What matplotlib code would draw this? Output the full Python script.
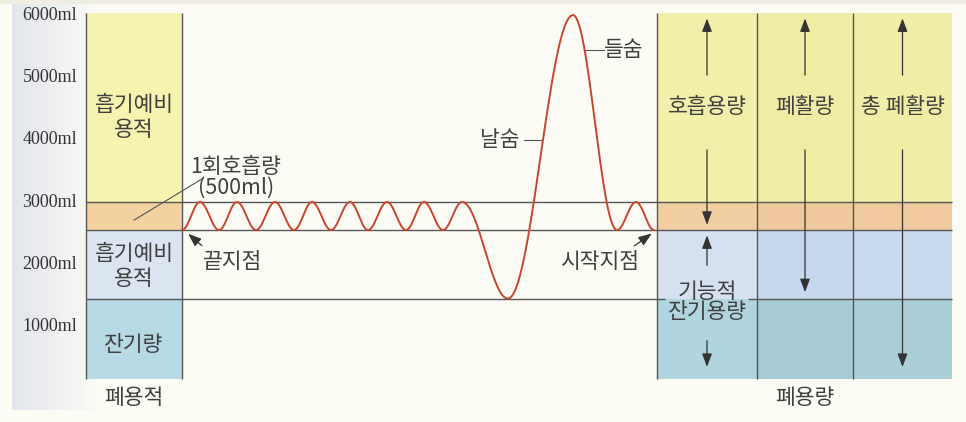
import numpy as np
import matplotlib.pyplot as plt

plt.rcParams['font.family'] = ['Noto Sans CJK KR', 'DejaVu Sans']

# volume axis (ml)
tick_ml = [1000, 2000, 3000, 4000, 5000, 6000]
tick_labels = ['1000ml', '2000ml', '3000ml', '4000ml', '5000ml', '6000ml']

# band boundaries (ml)
top_ml = 6030
tidal_top = 3000
tidal_bottom = 2550
frc_level = 1450
bottom_ml = 160

# breathing trace: turning points (time, volume)
trace_t = [182, 200, 219, 237, 256, 275, 294, 312, 331, 350, 368, 387, 406, 424, 443, 462,
           508, 573, 617, 636, 654]
trace_v = [2550, 3000, 2550, 3000, 2550, 3000, 2550, 3000, 2550, 3000, 2550, 3000, 2550, 3000, 2550, 3000,
           1450, 6000, 2550, 3000, 2550]

# band colours, left column and right columns
left_colors = ['#b6dae5', '#dbe5f2', '#f5d1a1', '#f6f2b0']
right_colors = [['#afd5df', '#d5e1f1', '#f2cda0', '#f2efaa'],
                ['#a6ccd6', '#c5d8ef', '#efc99c', '#eeeca5'],
                ['#a8cfd8', '#c7daf0', '#f0ca9d', '#efeda6']]
right_names = ['호흡용량', '폐활량', '총 폐활량']

fig = plt.figure(figsize=(9.66, 4.22), dpi=100)
fig.patch.set_facecolor('#fcfbf4')
ax = fig.add_axes([0, 0, 1, 1])
ax.set_xlim(0, 966)
ax.set_ylim(-529, 6241)
ax.axis('off')
ax.set_facecolor('#fcfbf4')

# grey shading behind the scale labels
grad = np.linspace(0, 1, 64)
c0 = np.array([0.89, 0.90, 0.93])
c1 = np.array([0.98, 0.98, 0.96])
img = c0[None, :] * (1 - grad[:, None]) + c1[None, :] * grad[:, None]
ax.imshow(img[None, :, :], extent=[12, 95, -330, 6241], aspect='auto', zorder=0)
ax.axhspan(6190, 6241, color='#efece1', zorder=0)

levels = [bottom_ml, frc_level, tidal_bottom, tidal_top, top_ml]
heights = np.diff(levels)

# left column (lung volumes)
ax.bar(134, heights, bottom=levels[:-1], width=96, color=left_colors, zorder=1)
ax.vlines([86, 182], bottom_ml, top_ml, color='#555555', lw=1, zorder=3)

# right columns (lung capacities)
right_x = [707, 805, 902.5]
right_w = [100, 96, 99]
for x, w, cols in zip(right_x, right_w, right_colors):
    ax.bar(x, heights, bottom=levels[:-1], width=w, color=cols, zorder=1)
ax.vlines([657, 757, 853], bottom_ml, top_ml, color='#555555', lw=1, zorder=3)

# level lines
ax.hlines([tidal_top, tidal_bottom], 86, 952, color='#555555', lw=1, zorder=3)
ax.hlines(frc_level, 86, 665, color='#555555', lw=1, zorder=3)
ax.hlines(frc_level, 748, 952, color='#555555', lw=1, zorder=3)

# breathing trace
xs, ys = [], []
for i in range(len(trace_t) - 1):
    s = np.linspace(0, 1, 30)
    xs.extend(trace_t[i] + (trace_t[i + 1] - trace_t[i]) * s)
    ys.extend(trace_v[i] + (trace_v[i + 1] - trace_v[i]) * (1 - np.cos(np.pi * s)) / 2)
ax.plot(xs, ys, color='#c9452f', lw=1.4, zorder=4)

# scale labels
for v, lab in zip(tick_ml, tick_labels):
    ax.text(77, v, lab, ha='right', va='center', fontsize=13,
            family='Liberation Serif', color='#333333')

txt = dict(color='#404040', fontsize=15.5, ha='center', va='center', zorder=5)
ax.text(134, 4360, '흡기예비\n용적', linespacing=1.15, **txt)
ax.text(134, 1970, '흡기예비\n용적', linespacing=1.15, **txt)
ax.text(134, 700, '잔기량', **txt)
ax.text(134, -140, '폐용적', **txt)
ax.text(236, 3400, '1회호흡량\n(500ml)', linespacing=0.95, **txt)
ax.plot([134, 203], [2710, 3380], color='#555555', lw=0.8, zorder=4)

arrow = dict(arrowstyle='-|>,head_length=0.8,head_width=0.3', color='#333333',
             lw=0.9, mutation_scale=10)
ax.text(233, 2030, '끝지점', **txt)
ax.annotate('', xy=(186, 2520), xytext=(204, 2270), arrowprops=arrow, zorder=5)
ax.text(600, 2030, '시작지점', **txt)
ax.annotate('', xy=(654, 2520), xytext=(632, 2270), arrowprops=arrow, zorder=5)

ax.text(520, 4000, '날숨', ha='right', va='center', color='#404040', fontsize=15.5)
ax.plot([524, 542], [4000, 4000], color='#555555', lw=0.8)
ax.text(604, 5440, '들숨', ha='left', va='center', color='#404040', fontsize=15.5)
ax.plot([585, 604], [5440, 5440], color='#555555', lw=0.8)

# capacity labels and arrows
for x, name in zip(right_x, right_names):
    ax.text(x, 4520, name, **txt)
    ax.annotate('', xy=(x, 5990), xytext=(x, 4990), arrowprops=arrow)
ax.annotate('', xy=(707, tidal_bottom + 40), xytext=(707, 3880), arrowprops=arrow)
ax.annotate('', xy=(805, frc_level + 60), xytext=(805, 3880), arrowprops=arrow)
ax.annotate('', xy=(902.5, bottom_ml + 150), xytext=(902.5, 3880), arrowprops=arrow)

ax.annotate('', xy=(707, tidal_bottom - 40), xytext=(707, 1940), arrowprops=arrow)
ax.text(707, 1560, '기능적', **txt)
ax.text(707, 1230, '잔기용량', **txt)
ax.annotate('', xy=(707, bottom_ml + 150), xytext=(707, 820), arrowprops=arrow)

ax.text(805, -140, '폐용량', **txt)

fig.savefig('out.png', dpi=100, facecolor=fig.get_facecolor())
